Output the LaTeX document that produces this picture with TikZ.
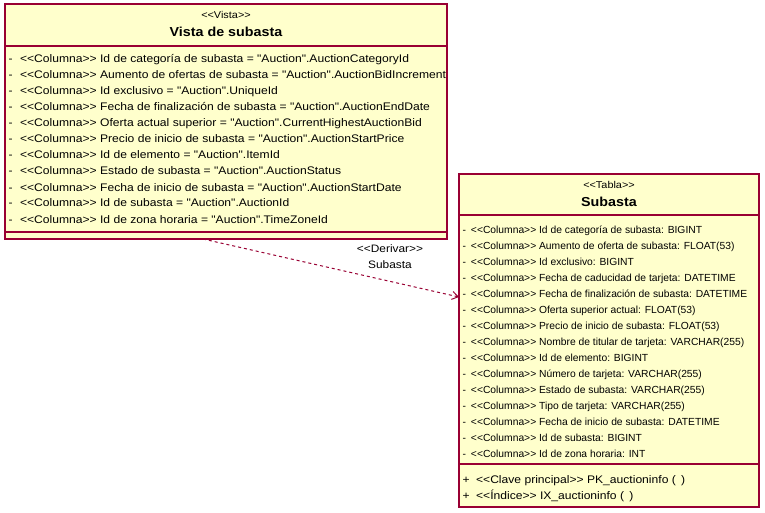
\documentclass[tikz,border=0pt]{standalone}
\usepackage{fontspec}
\setmainfont{Liberation Sans}
\newfontfamily\widefont[FakeStretch=1.1]{Liberation Sans}
\usetikzlibrary{arrows.meta}
\definecolor{umlfill}{HTML}{FFFFCC}
\definecolor{umlline}{HTML}{990033}
\newcommand{\stl}{<{}<}
\newcommand{\str}{>{}>}
\newcommand{\dsh}{-\hspace{4pt} }
\newcommand{\rdsh}{-\hspace{2pt} }
\newcommand{\pls}{+\hspace{3pt} }
\tikzset{
  umlbox/.style={draw=umlline, fill=umlfill, line width=1.2pt, inner sep=0pt, outer sep=0pt, anchor=north west},
  umlsep/.style={draw=umlline, line width=1.2pt},
  lattr/.style={anchor=base west, inner sep=0pt, font=\widefont\fontsize{11}{13}\selectfont},
  rattr/.style={anchor=base west, inner sep=0pt, font=\fontsize{10.3}{12}\selectfont},
  stereo/.style={anchor=base, inner sep=0pt, font=\widefont\fontsize{9.9}{12}\selectfont},
  titl/.style={anchor=base, inner sep=0pt, font=\widefont\bfseries\fontsize{13}{15}\selectfont},
  lbl/.style={anchor=base, inner sep=0pt, font=\widefont\fontsize{10.8}{13}\selectfont},
  derive/.style={draw=umlline, line width=1pt, dash pattern=on 3pt off 3pt, -{Straight Barb[length=6pt,width=8pt]}}
}
\begin{document}
\begin{tikzpicture}[x=1pt,y=-1pt]
\fill[white] (0,0) rectangle (765,513);
\useasboundingbox (0,0) rectangle (765,513);

% left box
\node[umlbox, minimum width=442pt, minimum height=235pt] (vista) at (5,4) {};
\draw[umlsep] (vista.west |- 0,46) -- (vista.east |- 0,46);
\draw[umlsep] (vista.west |- 0,232) -- (vista.east |- 0,232);
\node[stereo] (vst) at (226,18.5) {\stl Vista\str};
\node[titl] (vtt) at (226,36.5) {Vista de subasta};
\foreach \t [count=\i] in {
 {Id de categoría de subasta = "Auction".AuctionCategoryId},
 {Aumento de ofertas de subasta = "Auction".AuctionBidIncrement},
 {Id exclusivo = "Auction".UniqueId},
 {Fecha de finalización de subasta = "Auction".AuctionEndDate},
 {Oferta actual superior = "Auction".CurrentHighestAuctionBid},
 {Precio de inicio de subasta = "Auction".AuctionStartPrice},
 {Id de elemento = "Auction".ItemId},
 {Estado de subasta = "Auction".AuctionStatus},
 {Fecha de inicio de subasta = "Auction".AuctionStartDate},
 {Id de subasta = "Auction".AuctionId},
 {Id de zona horaria = "Auction".TimeZoneId}}
 \node[lattr] (va\i) at (8.5,{63+16*(\i-1)}) {\dsh\stl Columna\str{} \t};

% right box
\node[umlbox, minimum width=300pt, minimum height=333pt] (tabla) at (459,174) {};
\draw[umlsep] (tabla.west |- 0,215) -- (tabla.east |- 0,215);
\draw[umlsep] (tabla.west |- 0,464) -- (tabla.east |- 0,464);
\node[stereo] (tst) at (609,188.5) {\stl Tabla\str};
\node[titl] (ttt) at (609,206.5) {Subasta};
\foreach \t [count=\i] in {
 {Id de categoría de subasta: BIGINT},
 {Aumento de oferta de subasta: FLOAT(53)},
 {Id exclusivo: BIGINT},
 {Fecha de caducidad de tarjeta: DATETIME},
 {Fecha de finalización de subasta: DATETIME},
 {Oferta superior actual: FLOAT(53)},
 {Precio de inicio de subasta: FLOAT(53)},
 {Nombre de titular de tarjeta: VARCHAR(255)},
 {Id de elemento: BIGINT},
 {Número de tarjeta: VARCHAR(255)},
 {Estado de subasta: VARCHAR(255)},
 {Tipo de tarjeta: VARCHAR(255)},
 {Fecha de inicio de subasta: DATETIME},
 {Id de subasta: BIGINT},
 {Id de zona horaria: INT}}
 \node[rattr] (ta\i) at (462.5,{233.5+16*(\i-1)}) {\rdsh\stl Columna\str{} \t};
\node[lattr] (to1) at (462.5,483) {\pls\stl Clave principal\str{} PK\_auctioninfo (\hspace{2pt} )};
\node[lattr] (to2) at (462.5,499) {\pls\stl Índice\str{} IX\_auctioninfo (\hspace{2pt} )};

% dependency
\coordinate (ds) at (203,239);
\coordinate (de) at (459,297);
\draw[derive] (ds) -- (de);
\node[lbl] (dl1) at (390,252) {\stl Derivar\str};
\node[lbl] (dl2) at (390,268) {Subasta};
\end{tikzpicture}
\end{document}
